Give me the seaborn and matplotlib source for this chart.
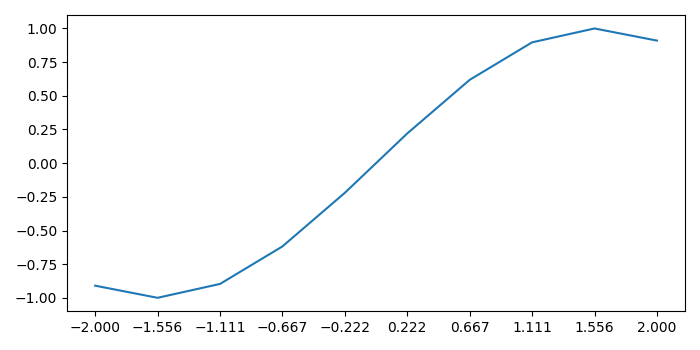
import matplotlib
matplotlib.use("Agg")
import matplotlib.pyplot as plt
import seaborn as sns

x_values = [-2.000, -1.556, -1.111, -0.667, -0.222, 0.222, 0.667, 1.111, 1.556, 2.000]
y_values = [-0.909, -0.999, -0.896, -0.618, -0.220, 0.220, 0.618, 0.896, 0.999, 0.909]
x_tick_labels = ["\u22122.000", "\u22121.556", "\u22121.111", "\u22120.667", "\u22120.222",
                 "0.222", "0.667", "1.111", "1.556", "2.000"]

fig, ax = plt.subplots(figsize=(7, 3.5), dpi=100)
sns.lineplot(x=x_values, y=y_values, ax=ax, color="#1f77b4")
ax.set_xticks(x_values)
ax.set_xticklabels(x_tick_labels)
fig.tight_layout()
fig.savefig("out.png", dpi=100)
